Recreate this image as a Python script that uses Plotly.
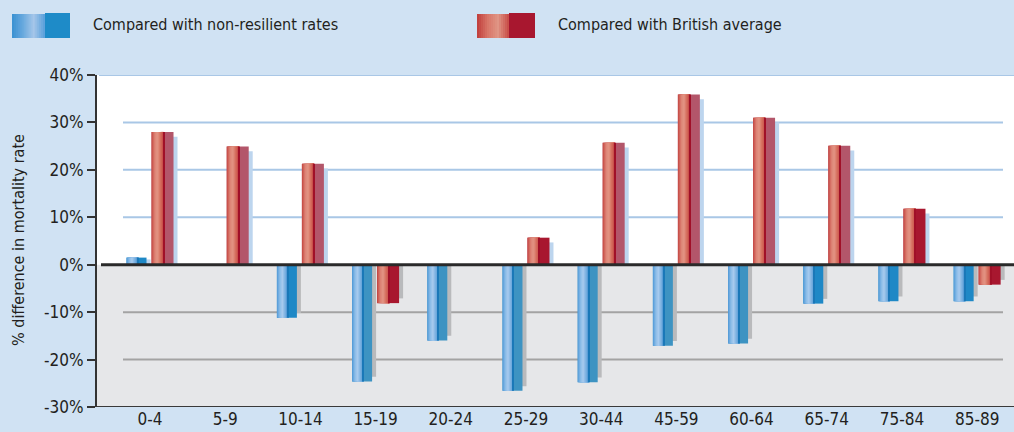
import math
import plotly.graph_objects as go

# ---------------- data ----------------
categories = ["0-4", "5-9", "10-14", "15-19", "20-24", "25-29",
              "30-44", "45-59", "60-64", "65-74", "75-84", "85-89"]
non_resilient = [1.5, None, -11.2, -24.6, -16.0, -26.6, -24.8, -17.1, -16.6, -8.2, -7.7, -7.7]
british_avg = [28.0, 24.9, 21.3, -8.1, None, 5.7, 25.7, 35.9, 31.0, 25.1, 11.8, -4.2]
series_names = ["Compared with non-resilient rates", "Compared with British average"]
y_ticks = [-30, -20, -10, 0, 10, 20, 30, 40]
y_title = "% difference in mortality rate"

# ---------------- geometry / style ----------------
W, H = 1014, 432
ML, MR, MT, MB = 97, 0, 75, 25
PW, PH = W - ML - MR, H - MT - MB
PX = 75.2  # pixels per category
FONT = "Liberation Sans Narrow, DejaVu Sans Condensed, Arial Narrow, sans-serif"
TXT = "#231f20"
BG = "#d0e2f3"


def u(px):
    return px / PX


def pxx(p):
    return (p - ML) / PW


def pxy(p):
    return (H - MB - p) / PH


def hex2rgb(h):
    h = h.lstrip("#")
    return [int(h[i:i + 2], 16) for i in (0, 2, 4)]


def interp(stops, n):
    """n colours interpolated along colour stops (style only)."""
    rgb = [hex2rgb(s) for s in stops]
    out = []
    for i in range(n):
        t = i / (n - 1) * (len(rgb) - 1)
        j = min(int(t), len(rgb) - 2)
        f = t - j
        c = [round(rgb[j][k] + (rgb[j + 1][k] - rgb[j][k]) * f) for k in range(3)]
        out.append("rgb(%d,%d,%d)" % tuple(c))
    return out


x = list(range(len(categories)))
fig = go.Figure()

BLUE_GRAD = interp(["#5a9fda", "#8dbde8", "#a8cbee", "#7fb3e2", "#5a9dd6"], 11)
RED_GRAD = interp(["#c84e48", "#dc8274", "#e39585", "#d6705f", "#c9504a"], 12)


def add_series(vals, left_px, right_px, split_px, grad, rcol, rcol_muted, split_col):
    sh = [None if v is None else math.copysign(max(abs(v) - 1.0, abs(v) * 0.75), v) for v in vals]
    shcol = ["#bdd5ee" if (v or 0) > 0 else "#b9babc" for v in vals]
    common = dict(x=x, hoverinfo="skip", showlegend=False)
    fig.add_bar(y=sh, offset=u(left_px + 4), width=u(right_px - left_px),
                marker=dict(color=shcol, line_width=0), **common)
    rc = [rcol_muted if (v is not None and abs(v) > 15) else rcol for v in vals]
    fig.add_bar(y=vals, offset=u(left_px), width=u(right_px - left_px),
                marker=dict(color=rc, line_width=0), **common)
    n = len(grad)
    w = (split_px - left_px) / n
    for k, c in enumerate(grad):
        s = left_px + k * w
        fig.add_bar(y=vals, offset=u(s), width=u(split_px - s),
                    marker=dict(color=c, line_width=0), **common)
    fig.add_bar(y=vals, offset=u(split_px - 0.5), width=u(1.0),
                marker=dict(color=split_col, line_width=0), **common)


add_series(non_resilient, -23.5, -3.5, -12.5, BLUE_GRAD, "#1e88c6", "#3d93c2", "#1a78b8")
add_series(british_avg, 1.5, 23.5, 13.5, RED_GRAD, "#a8172f", "#b3566a", "#a01028")

shapes = []
# gray area below zero
shapes.append(dict(type="rect", xref="paper", yref="y", x0=0, x1=1, y0=y_ticks[0], y1=0,
                   fillcolor="#e6e7e9", line_width=0, layer="below"))
for t in y_ticks:
    if t > 0:
        x0 = pxx(99) if t == max(y_ticks) else pxx(123)
        x1 = 1 if t == max(y_ticks) else pxx(1003)
        shapes.append(dict(type="line", xref="paper", yref="y", x0=x0, x1=x1, y0=t, y1=t,
                           line=dict(color="#a9c7e6", width=2), layer="below"))
    elif t < 0 and t != min(y_ticks):
        shapes.append(dict(type="line", xref="paper", yref="y", x0=pxx(123), x1=pxx(1003), y0=t, y1=t,
                           line=dict(color="#a3a3a3", width=2), layer="below"))
# bottom line
shapes.append(dict(type="line", xref="paper", yref="y", x0=0, x1=1, y0=min(y_ticks), y1=min(y_ticks),
                   line=dict(color="#3a3a3a", width=2), layer="above"))
# zero line
shapes.append(dict(type="line", xref="paper", yref="y", x0=pxx(101), x1=1, y0=0, y1=0,
                   line=dict(color="#2a2a2a", width=3), layer="above"))

annotations = []


def legend_swatch(x_left, x_split, x_right, grad, rcol, name):
    shapes.append(dict(type="rect", xref="paper", yref="paper", x0=pxx(x_split), x1=pxx(x_right),
                       y0=pxy(38), y1=pxy(13), fillcolor=rcol, line_width=0))
    n = len(grad)
    w = (x_split - x_left) / n
    for k, c in enumerate(grad):
        s = x_left + k * w
        shapes.append(dict(type="rect", xref="paper", yref="paper", x0=pxx(s), x1=pxx(x_split),
                           y0=pxy(38), y1=pxy(14), fillcolor=c, line_width=0))
    annotations.append(dict(text=name, xref="paper", yref="paper", x=pxx(x_right + 21), y=pxy(25),
                            xanchor="left", yanchor="middle", showarrow=False,
                            font=dict(family=FONT, size=16, color=TXT)))


LEG_BLUE = interp(["#3d93d3", "#6aaade", "#a5c6e9", "#5ea2dc"], 16)
LEG_RED = interp(["#c2423f", "#d87668", "#e09585", "#c9504a"], 16)
legend_swatch(12, 45, 70, LEG_BLUE, "#1e8bc8", series_names[0])
legend_swatch(477, 509, 535, LEG_RED, "#a8172f", series_names[1])

annotations.append(dict(text=y_title, xref="paper", yref="paper", x=pxx(18), y=pxy(240),
                        xanchor="center", yanchor="middle", textangle=-90, showarrow=False,
                        font=dict(family=FONT, size=16, color=TXT)))

fig.update_layout(
    width=W, height=H, autosize=False,
    margin=dict(l=ML, r=MR, t=MT, b=MB, pad=0),
    paper_bgcolor=BG, plot_bgcolor="white",
    barmode="overlay",
    showlegend=False,
    shapes=shapes, annotations=annotations,
    xaxis=dict(range=[-0.705, 11.49], tickvals=x, ticktext=categories, showgrid=False,
               zeroline=False, showline=False, ticks="", fixedrange=True,
               tickfont=dict(family=FONT, size=17, color=TXT)),
    yaxis=dict(range=[min(y_ticks), max(y_ticks)], tickvals=y_ticks,
               ticktext=[f"{t}%" for t in y_ticks], showgrid=False, zeroline=False,
               showline=True, linecolor="#333333", linewidth=2, ticks="outside",
               ticklen=8, tickwidth=2, tickcolor="#333333", fixedrange=True,
               tickfont=dict(family=FONT, size=17, color=TXT)),
)

fig.write_html("out.html", config={"displayModeBar": False},
               post_script="document.body.style.margin='0px';document.body.style.overflow='hidden';")
